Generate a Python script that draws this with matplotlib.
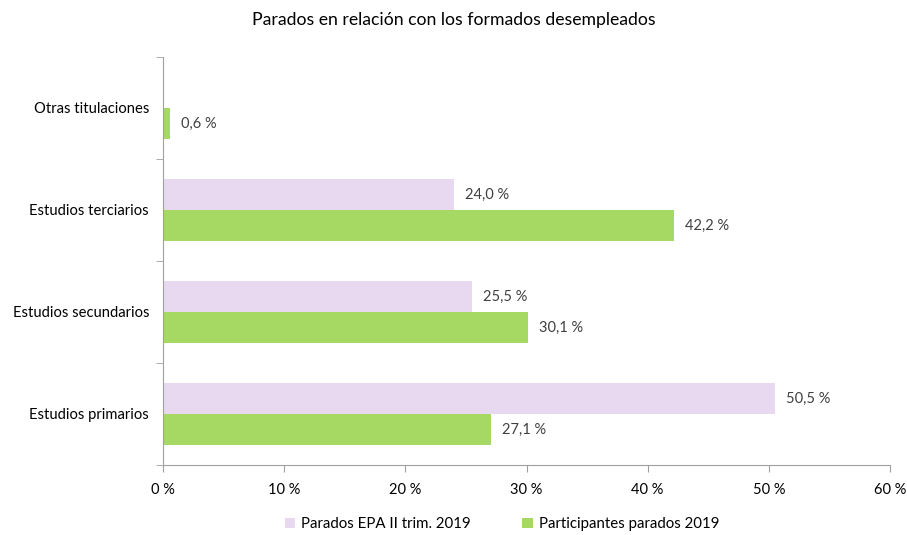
import matplotlib
matplotlib.use("Agg")
import matplotlib.pyplot as plt
import numpy as np
from matplotlib.ticker import FuncFormatter

categories = ["Estudios primarios", "Estudios secundarios", "Estudios terciarios", "Otras titulaciones"]
epa = [50.5, 25.5, 24.0, None]
participantes = [27.1, 30.1, 42.2, 0.6]
series_names = ["Parados EPA II trim. 2019", "Participantes parados 2019"]
xticks = [0, 10, 20, 30, 40, 50, 60]

plt.rcParams['font.family'] = ['Lato', 'DejaVu Sans']

fig = plt.figure(figsize=(9.07, 5.35), dpi=100)
ax = fig.add_axes([163/907, 1-465/535, (890-163)/907, (465-57)/535])

pink = "#E9D9F0"
green = "#A6D864"
h = 0.305
y = np.arange(len(categories))

for i, (e, p) in enumerate(zip(epa, participantes)):
    if e is not None:
        ax.barh(y[i] + h/2, e, height=h, color=pink, label=series_names[0] if i == 0 else None)
        ax.text(e + 0.9, y[i] + h/2, f"{e:.1f} %".replace(".", ","), va="center", ha="left", fontsize=10.5, color="#404040")
    ax.barh(y[i] - h/2, p, height=h, color=green, label=series_names[1] if i == 0 else None)
    ax.text(p + 0.9, y[i] - h/2, f"{p:.1f} %".replace(".", ","), va="center", ha="left", fontsize=10.5, color="#404040")

ax.set_xlim(0, 60)
ax.set_ylim(-0.5, len(categories) - 0.5)
ax.set_xticks(xticks)
ax.xaxis.set_major_formatter(FuncFormatter(lambda v, _: f"{int(v)} %"))
ax.set_yticks(y)
ax.set_yticklabels(categories)
ax.set_yticks(np.arange(-0.5, len(categories), 1), minor=True)
ax.tick_params(axis='y', which='major', length=0, pad=10, labelsize=10.6, labelcolor="#000000")
ax.tick_params(axis='y', which='minor', length=5, direction='out', color="#A0A0A0")
ax.tick_params(axis='x', which='major', length=5, direction='out', color="#A0A0A0", labelsize=10.5, pad=8)
for s in ["top", "right"]:
    ax.spines[s].set_visible(False)
for s in ["left", "bottom"]:
    ax.spines[s].set_color("#A0A0A0")

fig.text(0.5, 1-20/535, "Parados en relación con los formados desempleados", ha="center", va="center", fontsize=12.7)

handles, labels = ax.get_legend_handles_labels()
fig.legend(handles, labels, loc="center", bbox_to_anchor=(502/907, 1-524/535), ncol=2, frameon=False,
           fontsize=10.8, handlelength=0.7, handleheight=0.7, columnspacing=3.4, handletextpad=0.4)

fig.savefig("out.png", dpi=100)
